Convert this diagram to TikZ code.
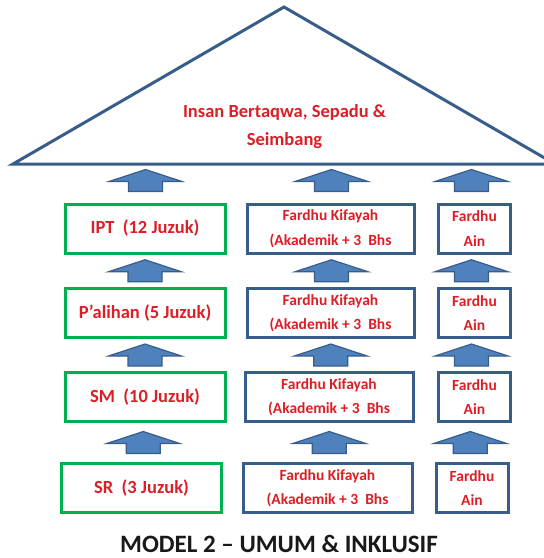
\documentclass[tikz,border=0pt]{standalone}
\usepackage{fontspec}
\setmainfont{Carlito}
\usetikzlibrary{calc}
\definecolor{boxblue}{RGB}{56,93,138}
\definecolor{arrowblue}{RGB}{79,129,189}
\definecolor{boxgreen}{RGB}{0,176,80}
\definecolor{textred}{RGB}{220,30,38}
\begin{document}
\begin{tikzpicture}[x=1pt,y=-1pt,
    level/.style={draw=boxgreen,line width=3pt,inner sep=0pt,minimum width=160pt,
      minimum height=49pt,text=textred,font=\bfseries\fontsize{18.5}{22}\selectfont},
    stream/.style={draw=boxblue,line width=3pt,inner sep=0pt,minimum height=49pt,
      align=center,text=textred,font=\bfseries\fontsize{15.5}{24.5}\selectfont},
    upblock/.pic={\draw[boxblue,fill=arrowblue,line width=1.2pt]
      (-17,11) -- (-17,1) -- (-36.5,1) -- (0,-11) -- (36.5,1) -- (17,1) -- (17,11) -- cycle;}]
  \useasboundingbox (0,0) rectangle (544,558);

  \coordinate (apex)  at (284,7);
  \coordinate (eaveL) at (13,164);
  \coordinate (eaveR) at (555,164);
  \draw [boxblue,line width=3pt] (eaveL) -- (apex) -- (eaveR) -- cycle;
  \node (goal) at (284.5,127) [text=textred,align=center,
    font=\bfseries\fontsize{18.5}{28}\selectfont] {Insan Bertaqwa, Sepadu \&\\Seimbang};

  \node (ipt)     at (145,228.5) [level] {IPT~~(12 Juzuk)};
  \node (palihan) at (145,313)   [level] {P’alihan (5 Juzuk)};
  \node (sm)      at (145,397)   [level] {SM~~(10 Juzuk)};
  \node (sr)      at (141.5,488) [level] {SR~~(3 Juzuk)};

  \node (fk1) at (330.5,228.5) [stream,minimum width=167pt] {Fardhu Kifayah\\(Akademik + 3~~Bhs};
  \node (fk2) at (330.5,313)   [stream,minimum width=167pt] {Fardhu Kifayah\\(Akademik + 3~~Bhs};
  \node (fk3) at (329,397)     [stream,minimum width=168pt] {Fardhu Kifayah\\(Akademik + 3~~Bhs};
  \node (fk4) at (327.5,488)   [stream,minimum width=169pt] {Fardhu Kifayah\\(Akademik + 3~~Bhs};

  \node (fa1) at (474.5,228.5) [stream,minimum width=72pt] {Fardhu\\Ain};
  \node (fa2) at (474.5,313)   [stream,minimum width=72pt] {Fardhu\\Ain};
  \node (fa3) at (474.5,397)   [stream,minimum width=72pt] {Fardhu\\Ain};
  \node (fa4) at (472,488)     [stream,minimum width=72pt] {Fardhu\\Ain};

  \pic at ($(ipt.north)+(0.5,-22)$) {upblock};
  \pic at ($(ipt.south)!0.5!(palihan.north)$) {upblock};
  \pic at ($(palihan.south)!0.5!(sm.north)$) {upblock};
  \pic at ($(sm.south)!0.5!(sr.north)$) {upblock};

  \pic at ($(fk1.north)+(1,-22)$) {upblock};
  \pic at ($(fk1.south)!0.5!(fk2.north)+(1,0)$) {upblock};
  \pic at ($(fk2.south)!0.5!(fk3.north)+(1,0)$) {upblock};
  \pic at ($(fk3.south)!0.5!(fk4.north)+(1,0)$) {upblock};

  \pic at ($(fa1.north)+(-3,-22)$) {upblock};
  \pic at ($(fa1.south)!0.5!(fa2.north)+(-3,0)$) {upblock};
  \pic at ($(fa2.south)!0.5!(fa3.north)+(-3,0)$) {upblock};
  \pic at ($(fa3.south)!0.5!(fa4.north)+(-3,0)$) {upblock};

  \node (title) at (279,544) [inner sep=0pt,text=black!90,
    font=\bfseries\fontsize{25}{28}\selectfont] {MODEL 2 – UMUM \& INKLUSIF};
\end{tikzpicture}
\end{document}
